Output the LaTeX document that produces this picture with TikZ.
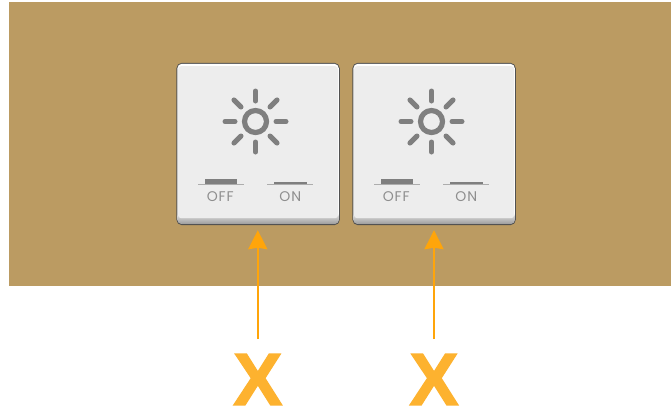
\documentclass[tikz,border=0pt]{standalone}
\usepackage{fontspec}
\setmainfont{Liberation Sans}
\newfontfamily\platefont[LetterSpace=6]{Poppins}
\newfontfamily\xfont[FakeBold=1.6]{Liberation Sans Bold}
\usetikzlibrary{arrows.meta,calc}
\definecolor{wallc}{HTML}{BB9B62}
\definecolor{platec}{HTML}{EDEDED}
\definecolor{iconc}{HTML}{7F7F7F}
\definecolor{labelc}{HTML}{8E8E8E}
\definecolor{arrowc}{HTML}{FFA50A}
\definecolor{xc}{HTML}{FDB22F}
\tikzset{
  x=1pt,y=-1pt,
  platebody/.style={draw=none,fill=platec,rounded corners=3pt,minimum width=160pt,minimum height=150pt,inner sep=0pt},
  ray/.style={draw=iconc,line width=5pt,line cap=round},
  ringstyle/.style={draw=iconc,line width=5.2pt},
  railstyle/.style={draw=black!32,line width=1.3pt},
  keystyle/.style={fill=iconc,draw=none},
  keylabel/.style={text=labelc,font=\platefont\fontsize{14}{14}\selectfont,inner sep=0pt},
  pointer/.style={draw=arrowc,line width=2.4pt,shorten >=5pt,-{Stealth[inset=1.5pt,length=19pt,width=19pt]}},
  xmark/.style={text=xc,font=\xfont\fontsize{74}{74}\selectfont,inner sep=0pt},
  pics/switchplate/.style={code={
    \fill[black!68,rounded corners=5.5pt] (-81.7,-81.2) rectangle (81.7,81.2);
    \fill[white,rounded corners=4.5pt] (-80.7,-80.2) rectangle (80.7,79.8);
    \shade[top color=platec,bottom color=black!38,rounded corners=4pt] (-80.7,68) rectangle (80.7,79.8);
    \node[platebody,anchor=north,minimum height=152pt] (#1) at (0,-78) {};
    \coordinate (#1-b) at (0,81.2);
    \draw[ringstyle] (-2.6,-22.5) circle[radius=11];
    \foreach \a in {0,45,...,315}
      \draw[ray] ($(-2.6,-22.5)+(\a:20.5)$) -- ($(-2.6,-22.5)+(\a:30.5)$);
    \draw[railstyle] (-60.1,40.5) -- (-14.1,40.5);
    \fill[keystyle] (-53.4,34.5) rectangle (-20.8,40.2);
    \node[keylabel] (#1-off) at (-37.8,52.3) {OFF};
    \draw[railstyle] (9.2,40.5) -- (55.2,40.5);
    \fill[keystyle] (15.9,37.6) rectangle (48.6,40.3);
    \node[keylabel] (#1-on) at (32.2,52.3) {ON};
  }}
}
\begin{document}
\begin{tikzpicture}[x=1pt,y=-1pt]
\useasboundingbox (0,0) rectangle (671,410);
\fill[white] (0,0) rectangle (671,410);
\fill[wallc] (9,2.3) rectangle (671,286);
\pic at (258.1,144) {switchplate=plateA};
\pic at (434.1,144) {switchplate=plateB};
\coordinate (startA) at (257.8,339);
\coordinate (startB) at (434,339);
\node[xmark] (xA) at (257.8,379.5) {X};
\node[xmark] (xB) at (434,379.5) {X};
\draw[pointer] (startA) -- (startA |- plateA-b);
\draw[pointer] (startB) -- (startB |- plateB-b);
\end{tikzpicture}
\end{document}
